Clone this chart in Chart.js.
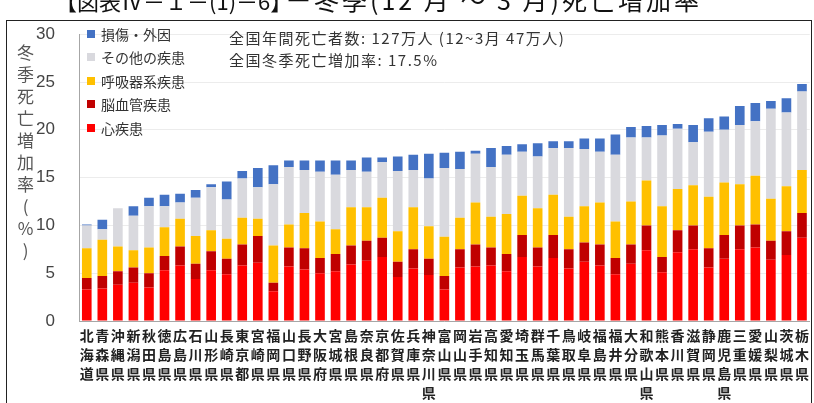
<!DOCTYPE html>
<html>
<head>
<meta charset="utf-8">
<script src="https://cdn.jsdelivr.net/npm/chart.js@4.4.1/dist/chart.umd.min.js"></script>
<style>
  body { margin: 0; width: 814px; height: 403px; overflow: hidden; background: #fff; position: relative; font-family: "Noto Sans CJK JP", sans-serif; }
  #myChart { position: absolute; left: 0; top: 0; }
  #frame { position: absolute; left: 6px; top: 20px; width: 804px; height: 400px; border: 1.5px solid #222; border-bottom: none; }
  .title { position: absolute; white-space: nowrap; color: #111; }
  #ytitle { position: absolute; left: 13px; top: 44px; writing-mode: vertical-rl; text-orientation: upright; font-size: 17px; letter-spacing: 5px; color: #555; }
  #legend { position: absolute; left: 87px; top: 22px; font-size: 14px; color: #333; }
  .item { height: 23.5px; display: flex; align-items: center; white-space: nowrap; }
  .sw { width: 8px; height: 8px; margin-right: 6px; }
  #note { position: absolute; left: 229px; top: 27px; font-size: 15px; letter-spacing: 1.5px; line-height: 22px; color: #333; white-space: nowrap; }
</style>
</head>
<body>
<canvas id="myChart" width="814" height="403"></canvas>
<div id="frame"></div>
<div class="title" style="left:55px;top:-16px;font-size:22px;">【図表Ⅳ－１－(1)－6】</div>
<div class="title" style="left:286px;top:-19px;font-size:25px;letter-spacing:3px;">ー冬季(12 月 ～ 3 月)死亡増加率</div>
<div id="ytitle">冬季死亡増加率(%)</div>
<div id="legend"></div>
<div id="note">全国年間死亡者数: 127万人 (12~3月 47万人)<br>全国冬季死亡増加率: 17.5%</div>
<script>
var prefs = ['北海道','青森県','沖縄県','新潟県','秋田県','徳島県','広島県','石川県','山形県','長崎県',
  '東京都','宮崎県','福岡県','山口県','長野県','大阪府','宮城県','島根県','奈良県','京都府',
  '佐賀県','兵庫県','神奈川県','富山県','岡山県','岩手県','高知県','愛知県','埼玉県','群馬県',
  '千葉県','鳥取県','岐阜県','福島県','福井県','大分県','和歌山県','熊本県','香川県','滋賀県',
  '静岡県','鹿児島県','三重県','愛媛県','山梨県','茨城県','栃木県'];

// 心疾患
var heart = [3.3,3.4,3.8,4.0,3.5,5.3,5.8,4.4,5.3,4.9,
  5.8,6.1,3.1,5.7,5.4,5.0,5.2,5.9,6.3,6.7,
  4.6,5.5,4.8,3.3,5.6,5.7,5.8,5.2,6.7,5.7,
  6.6,5.5,6.2,5.8,4.9,6.0,7.4,5.1,7.2,7.5,
  5.6,6.5,7.5,7.7,6.4,6.9,8.7];
// 脳血管疾患
var cerebro = [1.2,1.3,1.4,1.6,1.5,1.5,2.0,1.6,2.0,1.6,
  2.2,2.8,0.9,2.0,2.2,1.6,1.8,2.0,2.1,2.0,
  1.6,2.0,1.7,1.4,1.9,2.3,1.9,1.8,2.3,2.0,
  2.4,2.0,2.0,2.2,1.7,2.0,2.6,1.6,2.3,2.5,
  2.0,2.5,2.5,2.4,2.0,2.5,2.6];
// 呼吸器系疾患
var resp = [3.1,3.8,2.6,1.8,2.7,3.0,2.9,2.9,2.2,2.1,
  2.8,1.8,3.9,2.4,3.7,3.8,2.6,4.0,3.5,4.2,
  3.2,4.4,3.4,4.1,3.3,4.4,3.2,4.2,4.1,4.1,
  4.2,3.4,3.8,4.4,3.8,4.5,4.7,5.3,4.3,4.2,
  5.4,5.5,4.3,5.1,4.4,4.7,4.5];
// その他の疾患
var other = [2.4,1.1,4.0,3.6,4.3,2.2,1.7,4.0,4.5,4.1,
  4.1,3.3,6.4,6.0,4.5,5.2,5.7,3.9,3.7,3.7,
  6.3,3.9,5.0,7.2,5.1,5.1,5.2,6.2,4.6,5.4,
  4.9,7.2,6.0,5.3,7.0,6.7,4.5,7.4,6.3,4.5,
  6.8,5.5,6.2,5.7,9.4,7.7,8.2];
// 損傷・外因
var injury = [0.1,1.0,0,1.0,0.9,1.2,0.9,0.8,0.3,1.9,
  0.8,2.0,2.0,0.7,1.0,1.2,1.5,1.0,1.5,0.5,
  1.5,1.6,2.6,1.6,1.8,0.3,2.0,0.9,0.8,1.4,
  0.7,0.7,1.1,1.4,2.1,1.1,1.2,1.1,0.5,1.8,
  1.4,1.4,2.0,1.9,0.8,1.5,0.8];

var yTicks = [0, 5, 10, 15, 20, 25, 30];

var series = [
  { label: '心疾患', data: heart, color: '#ff0000' },
  { label: '脳血管疾患', data: cerebro, color: '#c00000' },
  { label: '呼吸器系疾患', data: resp, color: '#ffc000' },
  { label: 'その他の疾患', data: other, color: '#d9d9de' },
  { label: '損傷・外因', data: injury, color: '#4472c4' }
];

// legend, top entry = top of stack
var lg = document.getElementById('legend');
series.slice().reverse().forEach(function (s) {
  var d = document.createElement('div');
  d.className = 'item';
  d.innerHTML = '<span class="sw" style="background:' + s.color + '"></span>' + s.label;
  lg.appendChild(d);
});

var ctx = document.getElementById('myChart').getContext('2d');
var myChart = new Chart(ctx, {
  type: 'bar',
  data: {
    labels: prefs.map(function (p) { return p.split(''); }),
    datasets: series.map(function (s) {
      return {
        label: s.label,
        data: s.data,
        backgroundColor: s.color,
        borderWidth: 0,
        barPercentage: 0.62,
        categoryPercentage: 1
      };
    })
  },
  options: {
    responsive: false,
    animation: false,
    devicePixelRatio: 1,
    layout: { padding: { left: 0, top: 20, right: 2, bottom: 0 } },
    plugins: { legend: { display: false }, tooltip: { enabled: false } },
    scales: {
      x: {
        stacked: true,
        grid: { display: false, drawTicks: false },
        border: { display: true, color: '#a6a6a6' },
        ticks: {
          autoSkip: false, maxRotation: 0, minRotation: 0, padding: 5,
          color: '#222',
          font: { family: '"Noto Sans CJK JP", sans-serif', size: 14, weight: 'bold', lineHeight: '19px' }
        },
        afterFit: function (s) { s.height = 82; }
      },
      y: {
        stacked: true,
        min: 0, max: 30,
        afterBuildTicks: function (s) { s.ticks = yTicks.map(function (v) { return { value: v }; }); },
        grid: { color: '#ececec', drawTicks: false },
        border: { display: true, color: '#a6a6a6' },
        ticks: {
          padding: 24, color: '#444',
          font: { family: '"Liberation Sans", sans-serif', size: 17 }
        },
        afterFit: function (s) { s.width = 79; }
      }
    }
  }
});
</script>
</body>
</html>
